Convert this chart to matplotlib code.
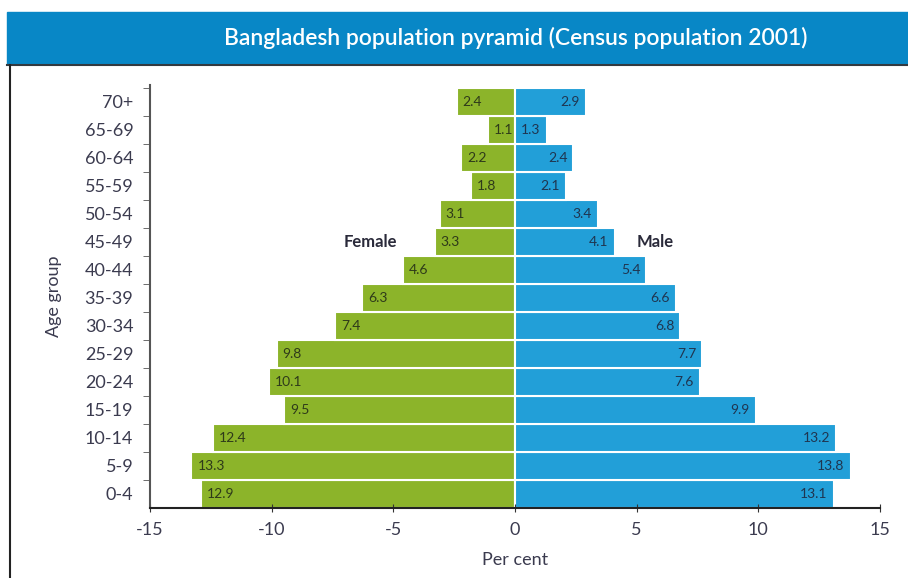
import matplotlib.pyplot as plt
from matplotlib.patches import Rectangle
from matplotlib.lines import Line2D

# Data (per cent of population, census 2001)
age_groups = ['0-4', '5-9', '10-14', '15-19', '20-24', '25-29', '30-34',
              '35-39', '40-44', '45-49', '50-54', '55-59', '60-64', '65-69', '70+']
female = [12.9, 13.3, 12.4, 9.5, 10.1, 9.8, 7.4, 6.3, 4.6, 3.3, 3.1, 1.8, 2.2, 1.1, 2.4]
male = [13.1, 13.8, 13.2, 9.9, 7.6, 7.7, 6.8, 6.6, 5.4, 4.1, 3.4, 2.1, 2.4, 1.3, 2.9]
xticks = [-15, -10, -5, 0, 5, 10, 15]

green = '#8cb42a'
blue = '#229fd8'
band = '#0887c6'
txt = '#3b3b4f'

plt.rcParams['font.family'] = ['Lato', 'DejaVu Sans']

fig = plt.figure(figsize=(9.08, 5.78), dpi=100)

# Title band and frame
fig.patches.append(Rectangle((7 / 908, 1 - 64 / 578), 1, 52 / 578,
                             transform=fig.transFigure, color=band, zorder=0))
fig.lines.append(Line2D([7 / 908, 1], [1 - 64.5 / 578] * 2, transform=fig.transFigure,
                        color='#333a40', lw=1.5))
fig.lines.append(Line2D([10 / 908] * 2, [0, 1 - 64.5 / 578], transform=fig.transFigure,
                        color='#222222', lw=1.5))
fig.text(0.568, 1 - 38 / 578, 'Bangladesh population pyramid (Census population 2001)',
         color='white', fontsize=16.5, ha='center', va='center', fontweight='semibold')

ax = fig.add_axes([150 / 908, 70 / 578, 730 / 908, 423 / 578])
y = list(range(len(age_groups)))
ax.barh(y, [-v for v in female], height=1.0, color=green, edgecolor='white', linewidth=1.5)
ax.barh(y, male, height=1.0, color=blue, edgecolor='white', linewidth=1.5)

for i in y:
    ax.text(-female[i] + 0.25, i, f'{female[i]}', ha='left', va='center',
            fontsize=10, color='#2e3a1a')
    ax.text(male[i] - 0.25, i, f'{male[i]}', ha='right', va='center',
            fontsize=10, color='#1f3550')

ax.text(-4.85, 9, 'Female', ha='right', va='center', fontsize=12,
        fontweight='bold', color='#2a2a3a')
ax.text(5.0, 9, 'Male', ha='left', va='center', fontsize=12,
        fontweight='bold', color='#2a2a3a')

ax.set_xlim(-15, 15)
ax.set_ylim(-0.5, 14.6)
ax.set_xticks(xticks)
ax.set_xticklabels([str(t) for t in xticks])
ax.set_yticks(y)
ax.set_yticklabels(age_groups)
ax.set_yticks([i + 0.5 for i in y], minor=True)
ax.tick_params(axis='y', which='major', length=0, pad=12, labelsize=13, labelcolor=txt)
ax.tick_params(axis='y', which='minor', length=5, direction='out', color='#555555')
ax.tick_params(axis='x', length=6, direction='inout', labelsize=13, labelcolor=txt,
               color='#333333', pad=7)
for s in ['top', 'right']:
    ax.spines[s].set_visible(False)
ax.spines['left'].set_color('#555555')
ax.spines['left'].set_linewidth(1.5)
ax.spines['bottom'].set_color('#222222')
ax.spines['bottom'].set_linewidth(1.5)

ax.set_xlabel('Per cent', fontsize=13, color=txt, labelpad=10)
ax.set_ylabel('Age group', fontsize=13, color=txt, labelpad=16)

fig.savefig('out.png', dpi=100)
